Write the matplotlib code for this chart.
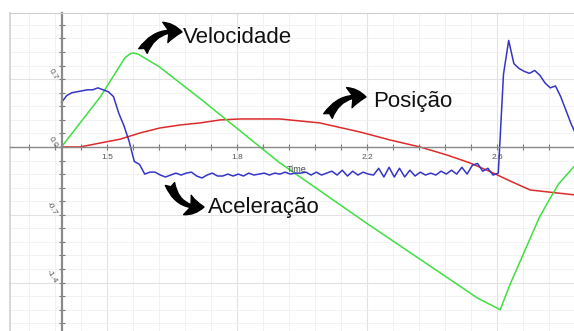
import numpy as np
import matplotlib
matplotlib.use('Agg')
import matplotlib.pyplot as plt
from matplotlib.ticker import MultipleLocator, FixedLocator

# velocity (green)
vel_time = [1.26, 1.38, 1.455, 1.47, 1.48, 1.495, 1.51, 1.56, 1.69, 1.93, 2.20, 2.43, 2.54,
            2.61, 2.64, 2.67, 2.70, 2.73, 2.76, 2.79, 2.84]
vel_vals = [0.00, 0.52, 0.92, 0.96, 0.97, 0.96, 0.93, 0.83, 0.49, -0.16, -0.79, -1.31, -1.56,
            -1.68, -1.42, -1.19, -0.96, -0.73, -0.55, -0.38, -0.19]

# position (red)
pos_time = [1.26, 1.317, 1.378, 1.44, 1.502, 1.563, 1.625, 1.686, 1.748, 1.809, 1.871,
            1.932, 2.055, 2.178, 2.271, 2.363, 2.446, 2.517, 2.588, 2.64, 2.702, 2.785, 2.84]
pos_vals = [0.00, 0.00, 0.04, 0.08, 0.145, 0.196, 0.227, 0.248, 0.279, 0.289, 0.289,
            0.289, 0.248, 0.155, 0.072, 0.00, -0.083, -0.165, -0.268, -0.351, -0.444, -0.475, -0.495]

# acceleration (blue), sampled every 0.016 s from 1.26 s
acc_t0 = 1.26
acc_dt = 0.016
acc_vals = [0.46, 0.53, 0.56, 0.57, 0.58, 0.59, 0.59, 0.61, 0.59, 0.57,
            0.52, 0.35, 0.22, 0.06, -0.15, -0.18, -0.28, -0.26, -0.26, -0.29,
            -0.31, -0.29, -0.27, -0.29, -0.27, -0.26, -0.30, -0.32, -0.29, -0.27,
            -0.30, -0.30, -0.28, -0.30, -0.28, -0.30, -0.27, -0.29, -0.28, -0.27,
            -0.29, -0.27, -0.28, -0.26, -0.28, -0.27, -0.27, -0.26, -0.29, -0.26,
            -0.29, -0.27, -0.25, -0.29, -0.24, -0.30, -0.25, -0.29, -0.26, -0.28,
            -0.29, -0.22, -0.31, -0.21, -0.31, -0.22, -0.31, -0.24, -0.30, -0.26,
            -0.29, -0.27, -0.29, -0.25, -0.28, -0.24, -0.28, -0.21, -0.28, -0.19,
            -0.17, -0.25, -0.22, -0.29, -0.27, 0.75, 1.10, 0.86, 0.81, 0.78,
            0.76, 0.79, 0.74, 0.66, 0.61, 0.63, 0.52, 0.38, 0.24, 0.12]
acc_time = acc_t0 + acc_dt * np.arange(len(acc_vals))

x_ticks = [1.4, 1.8, 2.2, 2.6]
x_labels = ['1.5', '1.8', '2.2', '2.6']
y_ticks = [0.7, 0.0, -0.7, -1.4]
y_labels = ['0.7', '0.0', '-0.7', '-1.4']

W, H = 574, 331
plt.rcParams['font.family'] = ['Liberation Sans', 'DejaVu Sans']

fig = plt.figure(figsize=(W / 100, H / 100), dpi=100)
ax = fig.add_axes([10 / W, 0, 1 - 10 / W, 1 - 13 / H])
ax.set_xlim(1.1015, 2.837)
ax.set_ylim(-1.90, 1.383)

ax.grid(which='major', color='#e2e2e2', lw=0.8)
ax.grid(which='minor', color='#f0f0f0', lw=0.6)
ax.set_axisbelow(True)

ax.plot(pos_time, pos_vals, color='#dd2a2a', lw=1.1)
ax.plot(vel_time, vel_vals, color='#3fe03f', lw=1.1)
ax.plot(acc_time, acc_vals, color='#3535c8', lw=1.1)

# axes lines through the origin
ax.spines['left'].set_position(('data', 1.2615))
ax.spines['bottom'].set_position(('data', 0))
ax.spines['left'].set_color('#8a8a8a')
ax.spines['left'].set_linewidth(1.6)
ax.spines['bottom'].set_color('#8a8a8a')
ax.spines['bottom'].set_linewidth(1.0)
ax.spines['right'].set_visible(False)
ax.spines['top'].set_color('#cfcfcf')
ax.axvline(1.1015, color='#cfcfcf', lw=1.2, clip_on=False)

ax.set_xticks(x_ticks, x_labels)
ax.set_yticks(y_ticks, y_labels)
ax.xaxis.set_minor_locator(FixedLocator(np.arange(1.16, 2.84, 0.08)))
ax.yaxis.set_minor_locator(MultipleLocator(0.14))
ax.tick_params(which='both', direction='inout', color='#777777', width=0.8,
               labelsize=6, labelcolor='#555555', length=4)
ax.tick_params(axis='x', pad=3)
ax.tick_params(axis='y', pad=2)
for lbl in ax.get_yticklabels():
    lbl.set_rotation(-60)
    lbl.set_rotation_mode('anchor')

ax.text(1.982, -0.237, 'Time', fontsize=6.5, color='#444444', ha='center', va='center')


def fpos(x, y):
    return (x / W, 1 - y / H)


labels = [('Velocidade', 183, 43), ('Posição', 373, 107), ('Aceleração', 208, 213)]
for txt, x, y in labels:
    fig.text(*fpos(x, y), txt, fontsize=16, color='#111111', ha='left', va='baseline')

arrows = [((143, 51), (182, 32), -0.35), ((328, 116), (366, 97), -0.35),
          ((170, 184), (204, 207), 0.4)]
for tail, head, rad in arrows:
    ax.annotate('', xy=fpos(*head), xytext=fpos(*tail), xycoords='figure fraction',
                textcoords='figure fraction',
                arrowprops=dict(arrowstyle='fancy,head_length=0.6,head_width=0.75,tail_width=0.35',
                                connectionstyle=f'arc3,rad={rad}', color='black',
                                mutation_scale=20, shrinkA=0, shrinkB=0))

fig.savefig('out.png', dpi=100)
